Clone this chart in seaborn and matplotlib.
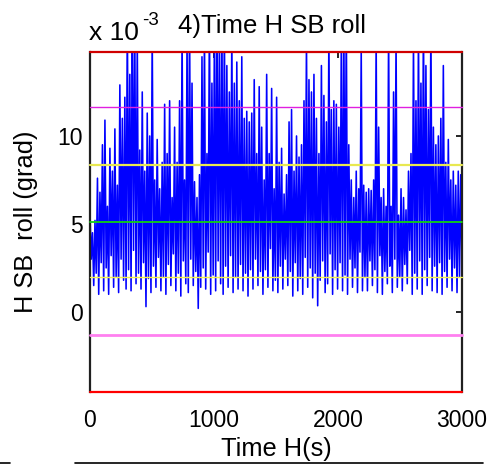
import numpy as np
import pandas as pd
import matplotlib
matplotlib.use("Agg")
import matplotlib.pyplot as plt
from matplotlib.lines import Line2D
import seaborn as sns

# values in units of 1e-3 grad
peaks = [5.7, 4.5, 5.2, 7.6, 6.8, 9.5, 10.9, 6.0, 9.3, 8.0,
         10.4, 7.2, 12.9, 11.0, 12.2, 17, 13.5, 18, 16, 15.5,
         9.2, 12.5, 8.0, 11.3, 10.0, 16, 7.5, 9.8, 7.0, 8.5,
         11.8, 9.0, 12.0, 6.5, 10.5, 8.5, 12.0, 16, 7.5, 15.5,
         17, 13.0, 7.4, 6.5, 7.8, 14.5, 16, 9.0, 17, 13.0,
         16, 18, 15.5, 17, 16.5, 14.0, 12.5, 16, 13.0, 14.2,
         12.0, 14.5, 11.0, 11.4, 10.8, 11.3, 13.2, 9.0, 12.8, 10.5,
         7.5, 13.5, 9.0, 12.7, 7.0, 12.2, 8.5, 9.3, 6.7, 7.8,
         10.8, 11.5, 8.0, 10.0, 8.8, 9.5, 12.0, 15.5, 13.2, 12.5,
         13.5, 11.0, 9.0, 14.0, 12.3, 10.8, 16, 11.5, 12.0, 11.8,
         10.5, 15.5, 16.5, 17, 9.5, 7.5, 6.5, 8.0, 7.0, 15.0,
         7.2, 6.8, 7.0, 6.9, 7.5, 15.5, 10.5, 6.5, 7.0, 6.0,
         16, 6.0, 12.5, 15.5, 5.5, 7.0, 6.5, 5.8, 8.0, 9.0,
         15.5, 12.0, 16, 13.0, 17, 14.0, 11.5, 16.5, 10.5, 9.5,
         10.0, 11.0, 14.0, 8.5, 9.8, 7.5, 8.0, 7.2, 8.0, 7.8]
troughs = [3.0, 1.5, 2.2, 1.0, 2.8, 1.2, 2.5, 1.0, 3.2, 1.4,
           2.0, 1.1, 3.0, 1.8, 1.3, 2.4, 1.2, 3.5, 1.6, 2.2,
           1.3, 2.8, 0.3, 1.9, 1.1, 2.6, 1.4, 3.1, 1.2, 2.0,
           1.0, 2.7, 1.5, 3.3, 1.2, 2.2, 0.9, 2.9, 1.6, 1.1,
           3.0, 1.5, 2.3, 0.2, 1.4, 2.5, 1.3, 3.4, 1.0, 2.1,
           1.2, 2.9, 1.6, 1.0, 2.6, 1.4, 3.2, 1.1, 2.0, 1.3,
           2.7, 1.2, 2.2, 0.9, 2.4, 1.3, 3.0, 1.5, 2.3, 1.0,
           2.4, 1.4, 3.6, 1.2, 1.8, 1.1, 2.6, 1.3, 3.0, 1.5,
           2.3, 0.9, 2.8, 1.2, 1.9, 1.0, 3.1, 1.4, 2.5, 0.8,
           2.2, 0.35, 1.8, 2.9, 1.1, 1.6, 3.3, 1.0, 2.4, 1.3,
           2.8, 1.2, 2.1, 1.0, 3.0, 1.4, 2.5, 1.1, 3.4, 1.2,
           2.0, 1.2, 2.9, 1.5, 2.4, 1.1, 3.2, 1.0, 2.3, 1.6,
           2.6, 1.1, 3.0, 1.4, 2.0, 1.2, 2.7, 1.6, 3.5, 1.0,
           2.2, 1.3, 2.9, 1.0, 2.4, 1.5, 3.1, 1.2, 2.6, 1.1,
           2.8, 1.0, 2.3, 1.4, 3.0, 1.2, 2.5, 1.1, 2.0, 2.6]

# horizontal reference levels (1e-3 grad) and their colours
levels = [14.77, 11.63, 8.37, 5.10, 1.97, -1.29, -4.55]
level_colors = ["#d00000", "#e020e0", "#e8e850", "#10d010", "#f0f050", "#ff80f0", "#ff0000"]
level_widths = [1.6, 1.0, 1.6, 1.3, 1.0, 2.0, 1.6]

xticks = [0, 1000, 2000, 3000]
yticks = [0, 5, 10]

roll = []
for p, t in zip(peaks, troughs):
    roll.extend([p, t])
time = np.linspace(0, 3000, len(roll))
df = pd.DataFrame({"time": time, "roll": roll})

sns.set_style("white")
plt.rcParams["font.family"] = ["Liberation Sans", "DejaVu Sans"]
plt.rcParams["text.color"] = "black"
plt.rcParams["axes.labelcolor"] = "black"

fig = plt.figure(figsize=(4.91, 4.65), dpi=100)
ax = fig.add_axes([90/491, 1-392/465, 372/491, 340/465])

sns.lineplot(data=df, x="time", y="roll", ax=ax, color="#0000ff", lw=1.15,
             estimator=None, sort=False)

for lv, c, w in zip(levels, level_colors, level_widths):
    ax.axhline(lv, color=c, lw=w, zorder=5, clip_on=False)

ax.set_xlim(0, 3000)
ax.set_ylim(levels[-1], levels[0])
ax.set_xticks(xticks)
ax.set_yticks(yticks)
ax.set_xticklabels([str(v) for v in xticks])
ax.set_yticklabels([str(v) for v in yticks])
ax.tick_params(direction="in", length=4, width=1.2, labelsize=16.5, colors="black",
               top=True, right=True)
ax.tick_params(axis="x", pad=12)
ax.tick_params(axis="y", pad=5)
for s in ["left", "right"]:
    ax.spines[s].set_color("#202020")
    ax.spines[s].set_linewidth(1.6)
for s in ["top", "bottom"]:
    ax.spines[s].set_visible(False)

ax.set_xlabel("Time H(s)", fontsize=18.3, labelpad=4, color="black")
ax.set_ylabel("H SB  roll (grad)", fontsize=18.3, labelpad=14, color="black")
fig.text(272/491, 1-33/465, "4)Time H SB roll", fontsize=18.5, ha="center", va="baseline", color="black")

fig.text(89/491, 1-40/465, "x 10", fontsize=19, ha="left", va="baseline", color="black")
fig.text(142/491, 1-25/465, "-3", fontsize=13.5, ha="left", va="baseline", color="black")

# remnants of the neighbouring panel at the bottom edge
fig.add_artist(Line2D([75/491, 483/491], [1-463/465, 1-463/465], color="black", lw=1.2))
fig.add_artist(Line2D([0, 10/491], [1-463/465, 1-463/465], color="black", lw=1.2))

fig.savefig("out.png", dpi=100)
